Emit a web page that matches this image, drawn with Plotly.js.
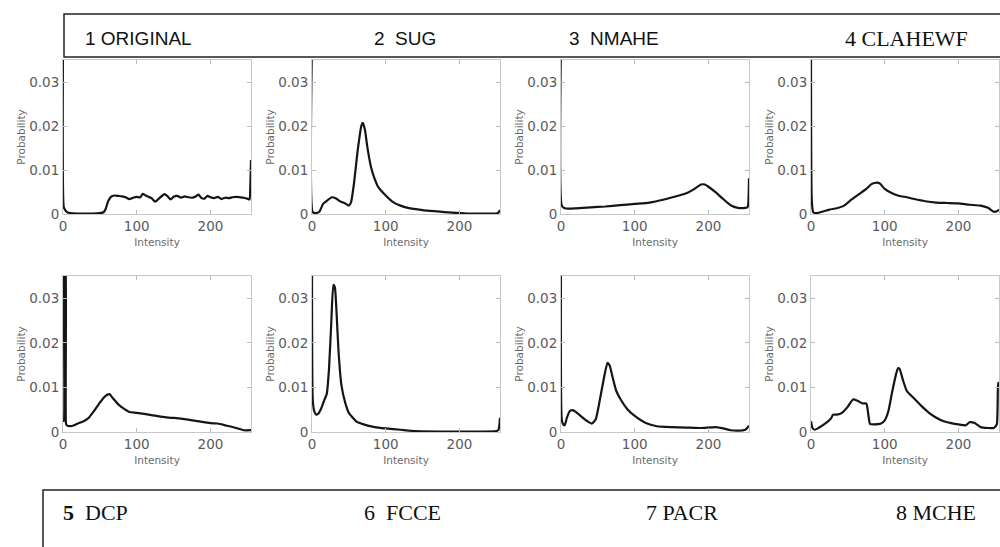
<!DOCTYPE html>
<html>
<head>
<meta charset="utf-8">
<script src="https://cdn.plot.ly/plotly-3.0.1.min.js"></script>
<style>html,body{margin:0;padding:0;background:#fff;}#chart{width:1000px;height:547px;}</style>
</head>
<body>
<div id="chart"></div>
<script>
// ---------- DATA ----------
const panelTitlesTop = ["1 ORIGINAL", "2  SUG", "3  NMAHE", "4 CLAHEWF"];
const panelTitlesBottom = ["<b>5</b>  DCP", "6  FCCE", "7 PACR", "8 MCHE"];

const xTickVals = [0, 100, 200];
const yTickVals = [0, 0.01, 0.02, 0.03];
const yTickText = ["0", "0.01", "0.02", "0.03"];

// 1 ORIGINAL
const origX = [0, 1, 3, 6, 10, 20, 30, 40, 50, 55, 58, 61, 64, 67, 70, 75, 80, 85, 90, 95, 100, 105, 108, 112, 116, 120, 125, 130, 135, 138, 142, 146, 150, 155, 160, 165, 170, 175, 180, 184, 188, 192, 196, 200, 205, 210, 215, 220, 225, 230, 235, 240, 245, 250, 253, 254, 255];
const origY = [0.04, 0.0016, 0.0009, 0.0004, 0.0002, 0.0001, 0.0001, 0.0001, 0.0002, 0.0004, 0.0012, 0.0028, 0.0037, 0.0041, 0.0042, 0.0041, 0.0040, 0.0038, 0.0034, 0.0037, 0.0039, 0.0038, 0.0046, 0.0042, 0.0039, 0.0036, 0.0028, 0.0035, 0.0042, 0.0045, 0.0040, 0.0033, 0.0039, 0.0041, 0.0037, 0.0040, 0.0038, 0.0037, 0.0040, 0.0044, 0.0036, 0.0035, 0.0041, 0.0038, 0.0036, 0.0039, 0.0034, 0.0037, 0.0036, 0.0038, 0.0039, 0.0038, 0.0037, 0.0035, 0.0033, 0.0060, 0.0123];

// 2 SUG
const sugX = [0, 1, 5, 10, 15, 20, 27, 32, 38, 45, 50, 53, 57, 62, 67, 69, 72, 75, 80, 85, 90, 100, 110, 120, 130, 150, 170, 190, 210, 240, 252, 255];
const sugY = [0.04, 0.0004, 0.0002, 0.0005, 0.0023, 0.0030, 0.0038, 0.0036, 0.0029, 0.0024, 0.0019, 0.0027, 0.0070, 0.0145, 0.0201, 0.0207, 0.0190, 0.0153, 0.0107, 0.0080, 0.0061, 0.0042, 0.0027, 0.0019, 0.0014, 0.0009, 0.0006, 0.0003, 0.0001, 0.0001, 0.0002, 0.0009];

// 3 NMAHE
const nmaheX = [0, 1, 5, 10, 20, 40, 60, 80, 100, 120, 140, 160, 170, 180, 190, 195, 200, 210, 220, 230, 240, 250, 253, 255];
const nmaheY = [0.04, 0.0019, 0.0013, 0.0012, 0.0013, 0.0015, 0.0017, 0.0020, 0.0023, 0.0026, 0.0033, 0.0042, 0.0047, 0.0056, 0.0067, 0.0067, 0.0062, 0.0049, 0.0034, 0.0020, 0.0014, 0.0014, 0.0015, 0.0081];

// 4 CLAHEWF
const clahewfX = [0, 1, 3, 8, 15, 25, 35, 45, 55, 65, 75, 82, 88, 93, 100, 110, 120, 130, 140, 155, 170, 185, 200, 215, 230, 240, 248, 252, 255];
const clahewfY = [0.04, 0.0035, 0.0004, 0.0002, 0.0005, 0.0010, 0.0013, 0.0019, 0.0033, 0.0045, 0.0057, 0.0068, 0.0071, 0.0070, 0.0057, 0.0047, 0.0041, 0.0038, 0.0034, 0.0029, 0.0026, 0.0025, 0.0024, 0.0021, 0.0019, 0.0014, 0.0005, 0.0006, 0.0010];

// 5 DCP
const dcpX = [0, 1, 2, 3, 4, 5, 10, 15, 20, 28, 35, 42, 50, 57, 63, 68, 75, 82, 90, 100, 120, 140, 160, 180, 200, 210, 220, 235, 245, 255];
const dcpY = [0.0025, 0.0025, 0.04, 0.04, 0.002, 0.0015, 0.0013, 0.0015, 0.0019, 0.0024, 0.0032, 0.0047, 0.0066, 0.0080, 0.0085, 0.0075, 0.0062, 0.0053, 0.0045, 0.0043, 0.0038, 0.0033, 0.0030, 0.0025, 0.0020, 0.0019, 0.0015, 0.0009, 0.0004, 0.0004];

// 6 FCCE
const fcceX = [0, 1, 3, 6, 9, 13, 17, 20, 23, 26, 29, 31, 33, 36, 40, 45, 50, 60, 70, 85, 100, 120, 140, 180, 230, 250, 253, 255];
const fcceY = [0.04, 0.0073, 0.0047, 0.0039, 0.0042, 0.0055, 0.0073, 0.0085, 0.0140, 0.0240, 0.0330, 0.0325, 0.0278, 0.0180, 0.0104, 0.0066, 0.0043, 0.0024, 0.0017, 0.0011, 0.0008, 0.0005, 0.0002, 0.0001, 0.0001, 0.0002, 0.0005, 0.0032];

// 7 PACR
const pacrX = [0, 1, 3, 5, 8, 12, 16, 20, 28, 36, 42, 47, 52, 58, 63, 66, 70, 75, 82, 90, 100, 115, 130, 150, 170, 190, 210, 220, 230, 240, 250, 255];
const pacrY = [0.04, 0.0028, 0.0017, 0.0015, 0.0032, 0.0047, 0.0049, 0.0045, 0.0034, 0.0024, 0.0019, 0.0028, 0.0066, 0.0119, 0.0155, 0.0149, 0.0123, 0.0092, 0.0070, 0.0051, 0.0036, 0.0020, 0.0013, 0.0011, 0.0010, 0.0009, 0.0011, 0.0008, 0.0004, 0.0003, 0.0005, 0.0014];

// 8 MCHE
const mcheX = [0, 2, 5, 10, 20, 27, 30, 35, 42, 50, 57, 63, 70, 75, 78, 80, 85, 95, 100, 105, 110, 115, 118, 120, 125, 130, 140, 150, 160, 170, 180, 190, 200, 210, 215, 222, 230, 240, 248, 252, 254, 255];
const mcheY = [0.0024, 0.0009, 0.0005, 0.0009, 0.0020, 0.0030, 0.0039, 0.0039, 0.0043, 0.0057, 0.0073, 0.0070, 0.0064, 0.0064, 0.0036, 0.0018, 0.0017, 0.0019, 0.0026, 0.0047, 0.0089, 0.0127, 0.0143, 0.0142, 0.0115, 0.0092, 0.0075, 0.0058, 0.0043, 0.0032, 0.0024, 0.0020, 0.0017, 0.0015, 0.0022, 0.0020, 0.0011, 0.0009, 0.0009, 0.0017, 0.0110, 0.0110];

const seriesX = [origX, sugX, nmaheX, clahewfX, dcpX, fcceX, pacrX, mcheX];
const seriesY = [origY, sugY, nmaheY, clahewfY, dcpY, fcceY, pacrY, mcheY];

// ---------- LAYOUT ----------
const W = 1000, H = 547;
const px = v => v / W;
const py = v => 1 - v / H;
const colX = [[63, 251], [312, 500], [561, 749], [811, 999]];
const rowY = [[60, 214], [276, 432]];

const tickFont = {family: "DejaVu Sans, Liberation Sans, sans-serif", size: 13.5, color: "#5a5a5a"};
const titleFont = {family: "DejaVu Sans, Liberation Sans, sans-serif", size: 10.5, color: "#6a6a6a"};

const data = [];
const layout = {
  width: W, height: H,
  margin: {l: 0, r: 0, t: 0, b: 0},
  paper_bgcolor: "#fff", plot_bgcolor: "#fff",
  showlegend: false,
  shapes: [], annotations: []
};

for (let i = 0; i < 8; i++) {
  const r = Math.floor(i / 4), c = i % 4;
  const n = i === 0 ? "" : String(i + 1);
  data.push({
    type: "scatter", mode: "lines",
    x: seriesX[i], y: seriesY[i],
    xaxis: "x" + n, yaxis: "y" + n,
    line: {color: "#151515", width: 2.2, shape: "spline", smoothing: 0.5},
    hoverinfo: "skip"
  });
  layout["xaxis" + n] = {
    domain: [px(colX[c][0]), px(colX[c][1])],
    anchor: "y" + n,
    range: [0, 255],
    tickvals: xTickVals,
    ticks: "inside", ticklen: 4, tickcolor: "#bbb", tickwidth: 1,
    showline: true, linecolor: "#c8c8c8", linewidth: 1, mirror: "ticks",
    showgrid: false, zeroline: false,
    tickfont: tickFont,
    title: {text: "Intensity", font: titleFont, standoff: 5}
  };
  layout["yaxis" + n] = {
    domain: [py(rowY[r][1]), py(rowY[r][0])],
    anchor: "x" + n,
    range: [0, 0.035],
    tickvals: yTickVals, ticktext: yTickText,
    ticks: "inside", ticklen: 4, tickcolor: "#bbb", tickwidth: 1,
    showline: true, linecolor: "#c8c8c8", linewidth: 1, mirror: "ticks",
    showgrid: false, zeroline: false,
    tickfont: tickFont,
    title: {text: "Probability", font: titleFont, standoff: 1}
  };
}

// title boxes
layout.shapes.push({type: "rect", xref: "paper", yref: "paper",
  x0: px(64), x1: px(1010), y0: py(57), y1: py(14),
  line: {color: "#222", width: 1.5}, fillcolor: "rgba(0,0,0,0)", layer: "above"});
layout.shapes.push({type: "rect", xref: "paper", yref: "paper",
  x0: px(43), x1: px(1010), y0: py(580), y1: py(490),
  line: {color: "#222", width: 1.5}, fillcolor: "rgba(0,0,0,0)", layer: "above"});

const topX = [83, 372, 567, 843];
const botX = [61, 362, 644, 894];
for (let k = 0; k < 4; k++) {
  layout.annotations.push({
    xref: "paper", yref: "paper", x: px(topX[k]), y: py(38.5),
    xanchor: "left", yanchor: "middle", showarrow: false,
    text: panelTitlesTop[k],
    font: k === 3 ? {family: "Liberation Serif, serif", size: 22, color: "#111"}
                  : {family: "Liberation Sans, Arial, sans-serif", size: 19, color: "#111"}
  });
  layout.annotations.push({
    xref: "paper", yref: "paper", x: px(botX[k]), y: py(512),
    xanchor: "left", yanchor: "middle", showarrow: false,
    text: panelTitlesBottom[k],
    font: {family: "Liberation Serif, serif", size: 22, color: "#111"}
  });
}

Plotly.newPlot("chart", data, layout, {staticPlot: true, displayModeBar: false});
</script>
</body>
</html>
